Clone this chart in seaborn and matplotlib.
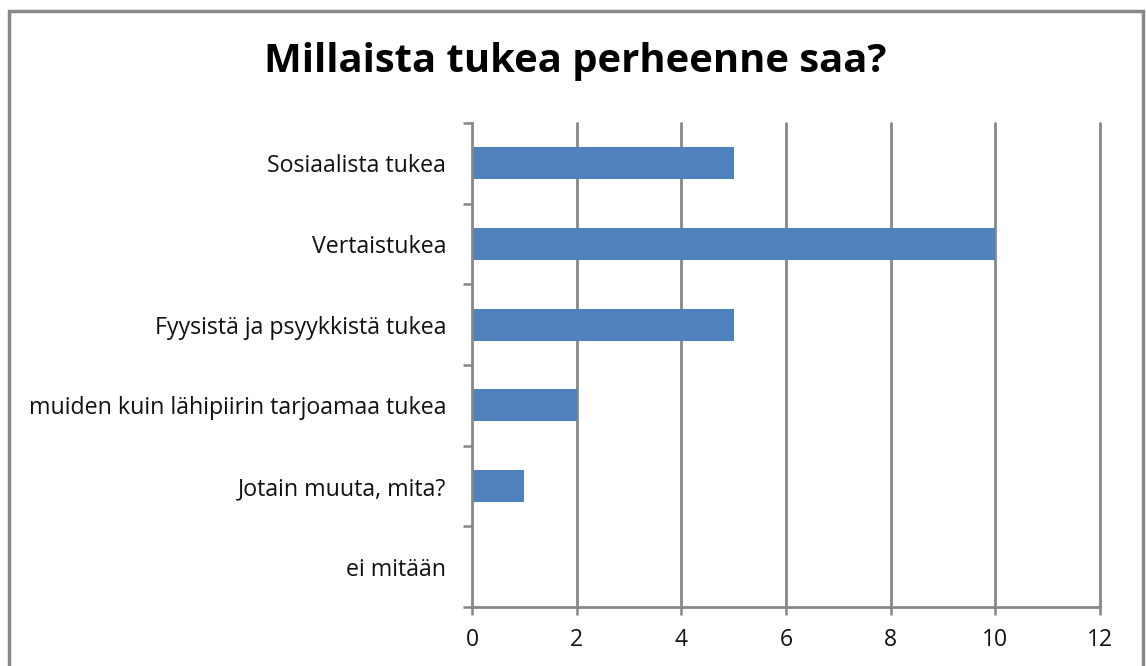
import matplotlib
matplotlib.use("Agg")
import matplotlib.pyplot as plt
import seaborn as sns
import pandas as pd
from matplotlib.patches import Rectangle

categories = ["Sosiaalista tukea", "Vertaistukea", "Fyysistä ja psyykkistä tukea",
              "muiden kuin lähipiirin tarjoamaa tukea", "Jotain muuta, mita?", "ei mitään"]
values = [5, 10, 5, 2, 1, 0]
x_ticks = [0, 2, 4, 6, 8, 10, 12]
title = "Millaista tukea perheenne saa?"

sns.set_style("white")
plt.rcParams['font.family'] = ['Open Sans', 'DejaVu Sans']

df = pd.DataFrame({"cat": categories, "val": values})

fig = plt.figure(figsize=(11.46, 6.66), dpi=100)
ax = fig.add_axes([472/1146, 1 - 607/666, (1100-472)/1146, (607-123)/666])

sns.barplot(data=df, y="cat", x="val", orient="h", color="#4F81BD",
            saturation=1, width=0.4, ax=ax, zorder=3, linewidth=0)

grid_c = "#878787"
ax.set_xlim(0, 12)
ax.set_ylim(len(categories) - 0.5, -0.5)
ax.set_xticks(x_ticks)
ax.set_xticklabels([str(t) for t in x_ticks], fontsize=16.5, color="#111111")
ax.set_yticks(range(len(categories)))
ax.set_yticklabels(categories, fontsize=16.7, color="#111111")
ax.set_yticks([i - 0.5 for i in range(len(categories) + 1)], minor=True)
ax.tick_params(axis="y", which="major", left=False, length=0, pad=18.5)
ax.tick_params(axis="y", which="minor", left=True, length=6.5, width=1.8,
               color=grid_c, direction="out")
ax.tick_params(axis="x", which="major", bottom=True, length=5.5, width=1.8,
               color=grid_c, direction="out", pad=9.5)
ax.set_xlabel("")
ax.set_ylabel("")

for x in x_ticks[1:]:
    ax.axvline(x, color=grid_c, lw=2, zorder=1, clip_on=False)

for s in ["top", "right"]:
    ax.spines[s].set_visible(False)
for s in ["left", "bottom"]:
    ax.spines[s].set_color(grid_c)
    ax.spines[s].set_linewidth(2)
    ax.spines[s].set_zorder(4)

fig.text(575/1146, 1 - 72/666, title, ha="center", va="baseline",
         fontsize=28.8, fontweight="bold", color="#000000")

fig.patches.append(Rectangle((9/1146, -0.1), (1143-9)/1146, 1.1 - 11/666,
                             transform=fig.transFigure, fill=False,
                             edgecolor="#888888", lw=2.5, zorder=10))

fig.savefig("out.png", dpi=100, facecolor="white")
